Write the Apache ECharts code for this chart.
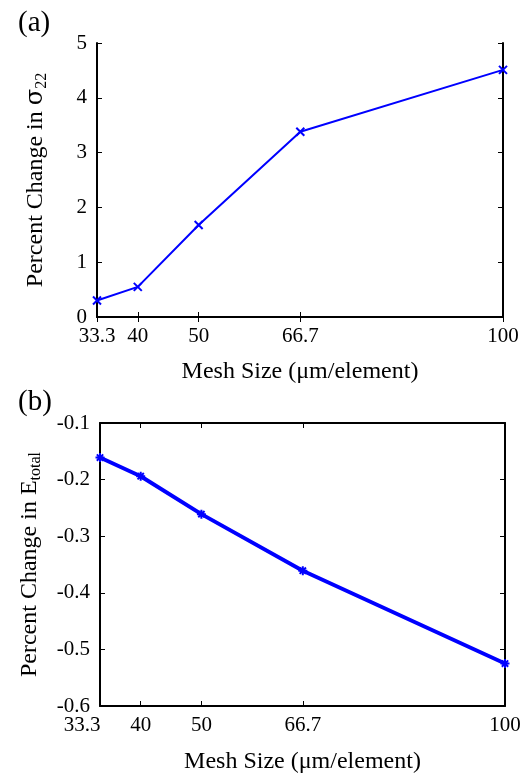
<!DOCTYPE html>
<html>
<head>
<meta charset="utf-8">
<script src="https://cdn.jsdelivr.net/npm/echarts@6/dist/echarts.min.js"></script>
<style>html,body{margin:0;padding:0;background:#fff}#c{width:528px;height:778px}</style>
</head>
<body>
<div id="c"></div>
<script>
var meshSize = [33.3, 40, 50, 66.7, 100];
var sigma22Change = [0.30, 0.55, 1.68, 3.38, 4.51];
var eTotalChange = [-0.161, -0.194, -0.261, -0.361, -0.525];
var xTicks = [33.3, 40, 50, 66.7, 100];
var xTitle = 'Mesh Size (\u03bcm/element)';

var FONT = 'Liberation Serif';
var FS = 21;
var TS = 24;
var chart = echarts.init(document.getElementById('c'), null, {renderer: 'canvas'});

function pairs(ys) { return meshSize.map(function (x, i) { return [x, ys[i]]; }); }

function xAxes(gi, shiftFirst, gap) {
  return [{
    type: 'value', gridIndex: gi, min: 33.3, max: 100, position: 'bottom',
    axisLine: {show: true, lineStyle: {color: '#000', width: 2}},
    axisTick: {show: true, inside: true, length: 5, customValues: xTicks, lineStyle: {color: '#000', width: 1}},
    axisLabel: {show: true, customValues: xTicks, margin: 9, color: '#000', fontFamily: FONT, fontSize: FS,
      formatter: function (v) {
        var s = (Math.abs(v - 33.3) < 1e-6) ? '33.3' : (Math.abs(v - 66.7) < 1e-6 ? '66.7' : String(Math.round(v)));
        if (shiftFirst && s === '33.3') return '{l|33.3}';
        return s;
      },
      rich: {l: {fontFamily: FONT, fontSize: FS, color: '#000', padding: [0, 36, 0, 0]}}
    },
    splitLine: {show: false},
    name: xTitle, nameLocation: 'middle', nameGap: gap,
    nameTextStyle: {fontFamily: FONT, fontSize: TS, color: '#000'}
  }, {
    type: 'value', gridIndex: gi, min: 33.3, max: 100, position: 'top',
    axisLine: {show: true, lineStyle: {color: '#000', width: 2}},
    axisTick: {show: true, inside: true, length: 5, customValues: xTicks, lineStyle: {color: '#000', width: 1}},
    axisLabel: {show: false}, splitLine: {show: false}
  }];
}

function yAxes(gi, min, max, interval, digits, nameRich, gap) {
  return [{
    type: 'value', gridIndex: gi, min: min, max: max, interval: interval, position: 'left',
    axisLine: {show: true, lineStyle: {color: '#000', width: 2}},
    axisTick: {show: true, inside: true, length: 5, lineStyle: {color: '#000', width: 1}},
    axisLabel: {margin: 10, color: '#000', fontFamily: FONT, fontSize: FS,
      formatter: function (v) { return digits ? v.toFixed(digits) : String(Math.round(v)); }},
    splitLine: {show: false},
    name: nameRich, nameLocation: 'middle', nameRotate: 90, nameGap: gap,
    nameTextStyle: {fontFamily: FONT, fontSize: TS, color: '#000',
      rich: {
        t: {fontFamily: FONT, fontSize: TS, color: '#000'},
        g: {fontFamily: 'DejaVu Serif', fontSize: TS, color: '#000'},
        s: {fontFamily: FONT, fontSize: 16, color: '#000', padding: [12, 0, 0, 0]}
      }}
  }, {
    type: 'value', gridIndex: gi, min: min, max: max, interval: interval, position: 'right',
    axisLine: {show: true, lineStyle: {color: '#000', width: 2}},
    axisTick: {show: true, inside: true, length: 5, lineStyle: {color: '#000', width: 1}},
    axisLabel: {show: false}, splitLine: {show: false}
  }];
}

var xa = xAxes(0, false, 43).concat(xAxes(1, true, 44));
var ya = yAxes(0, 0, 5, 1, 0, '{t|Percent Change in }{g|\u03c3}{s|22}', 47)
  .concat(yAxes(1, -0.6, -0.1, 0.1, 1, '{t|Percent Change in E}{s|total}', 56));

var option = {
  animation: false,
  backgroundColor: '#fff',
  title: [
    {text: '(a)', left: 13, top: 4, textStyle: {fontFamily: FONT, fontSize: 29, fontWeight: 'normal', color: '#000'}},
    {text: '(b)', left: 13, top: 383, textStyle: {fontFamily: FONT, fontSize: 29, fontWeight: 'normal', color: '#000'}}
  ],
  grid: [
    {left: 97, top: 43, width: 406, height: 274},
    {left: 100, top: 423, width: 405, height: 283}
  ],
  xAxis: xa,
  yAxis: ya,
  series: [{
    type: 'line', xAxisIndex: 0, yAxisIndex: 0, data: pairs(sigma22Change), clip: false,
    lineStyle: {color: '#0000ff', width: 2},
    symbol: 'path://M0,0L10,10M10,0L0,10', symbolSize: 8,
    itemStyle: {color: 'rgba(0,0,0,0)', borderColor: '#0000ff', borderWidth: 2}
  }, {
    type: 'line', xAxisIndex: 2, yAxisIndex: 2, data: pairs(eTotalChange), clip: false,
    lineStyle: {color: '#0000ff', width: 4},
    symbol: 'path://M0,5L10,5M5,0L5,10M1.5,1.5L8.5,8.5M8.5,1.5L1.5,8.5', symbolSize: 9,
    itemStyle: {color: 'rgba(0,0,0,0)', borderColor: '#0000ff', borderWidth: 2}
  }]
};
chart.setOption(option);
</script>
</body>
</html>
